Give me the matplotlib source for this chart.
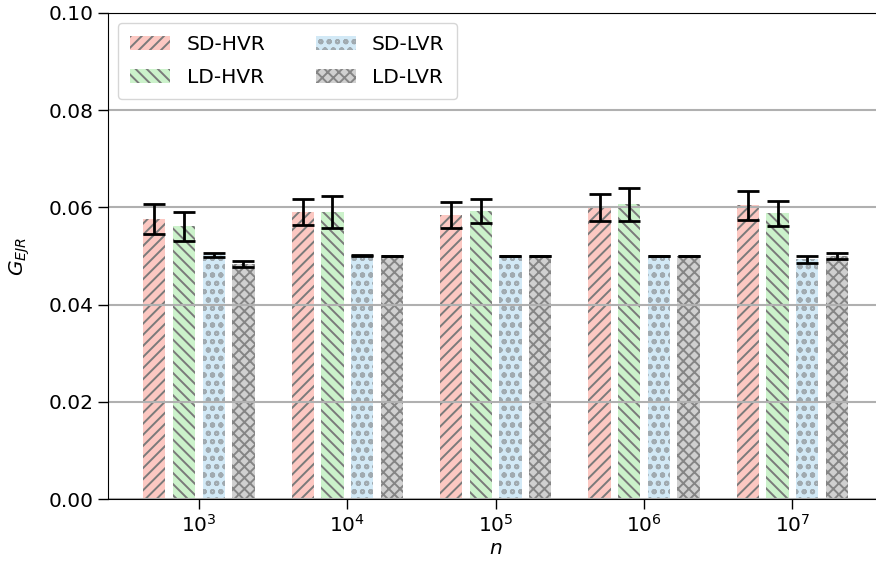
import numpy as np
import matplotlib
matplotlib.use("Agg")
import matplotlib.pyplot as plt

# valeurs
n_labels = [r"$10^3$", r"$10^4$", r"$10^5$", r"$10^6$", r"$10^7$"]
series = ["SD-HVR", "LD-HVR", "SD-LVR", "LD-LVR"]

sd_hvr = [0.0576, 0.0590, 0.0584, 0.0599, 0.0604]
sd_hvr_err = [0.0030, 0.0027, 0.0026, 0.0028, 0.0029]
ld_hvr = [0.0561, 0.0590, 0.0592, 0.0606, 0.0588]
ld_hvr_err = [0.0030, 0.0033, 0.0025, 0.0034, 0.0026]
sd_lvr = [0.0502, 0.0501, 0.0500, 0.0500, 0.0493]
sd_lvr_err = [0.0005, 0.0001, 0.0001, 0.0001, 0.0007]
ld_lvr = [0.0484, 0.0500, 0.0500, 0.0500, 0.0500]
ld_lvr_err = [0.0006, 0.0001, 0.0001, 0.0001, 0.0007]

means = [sd_hvr, ld_hvr, sd_lvr, ld_lvr]
errs = [sd_hvr_err, ld_hvr_err, sd_lvr_err, ld_lvr_err]
colors = ["#fcc8c2", "#ccf2cb", "#d2e9f6", "#d0d0d0"]
hatch_cols = ["#7a7a7a", "#7a7a7a", "#a0aab0", "#858585"]
hatches = ["///", "\\\\\\", "oo", "xxx"]

plt.rcParams["font.size"] = 14.5
plt.rcParams["hatch.linewidth"] = 1.4

fig = plt.figure(figsize=(8.76, 5.62), dpi=100)
ax = fig.add_axes([108 / 876, (562 - 499.3) / 562, (883.3 - 108) / 876, (499.3 - 12.7) / 562])

x = np.arange(len(n_labels))
width = 0.15
offsets = [-0.3, -0.1, 0.1, 0.3]
for i in range(len(series)):
    ax.bar(x + offsets[i], means[i], width, yerr=errs[i], color=colors[i],
           edgecolor=hatch_cols[i], linewidth=0, hatch=hatches[i], label=series[i],
           error_kw=dict(ecolor="black", elinewidth=2, capsize=8, capthick=2))

ax.set_ylim(0, 0.1)
ax.set_yticks(np.arange(0, 0.101, 0.02))
ax.set_xticks(x)
ax.set_xticklabels(n_labels)
ax.yaxis.grid(True, color="#b0b0b0", linewidth=1.5)
ax.tick_params(length=7, width=1)
ax.set_xlabel(r"$n$", labelpad=2)
ax.set_ylabel(r"$G_{EJR}$", labelpad=12)
ax.legend(loc="upper left", ncol=2, fontsize=14.5, columnspacing=2.5,
          labelspacing=0.7, borderpad=0.6)

fig.savefig("out.png", dpi=100)
